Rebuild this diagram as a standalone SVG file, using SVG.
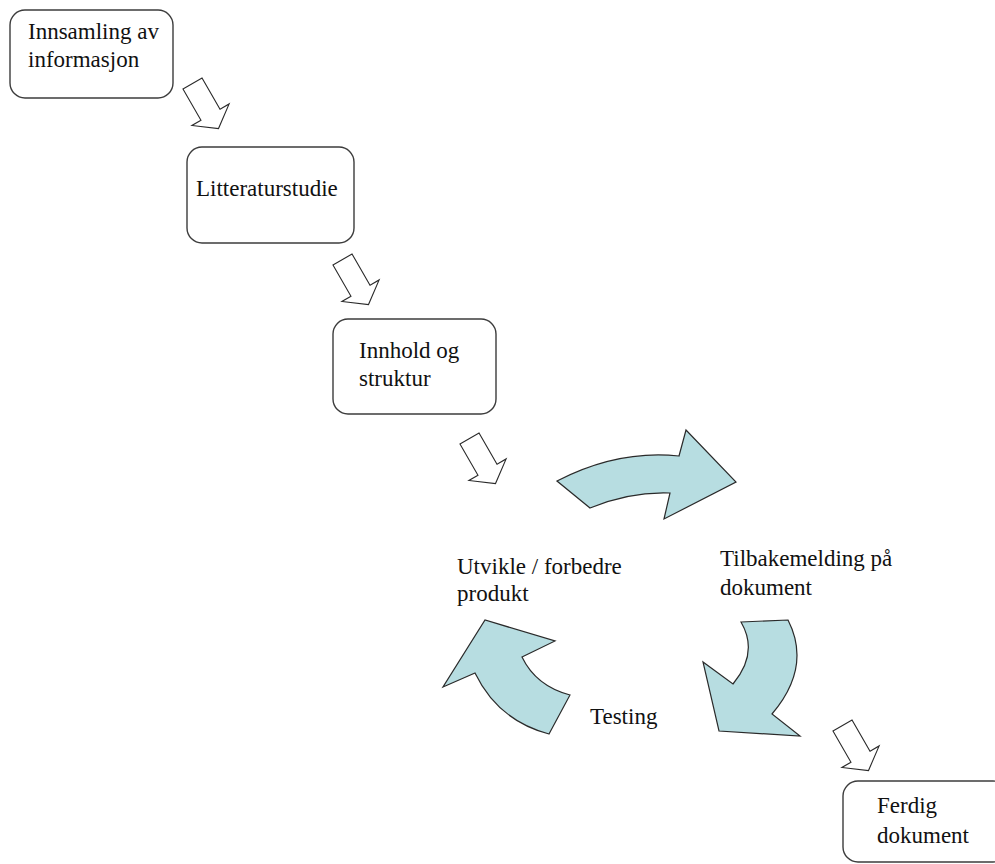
<svg xmlns="http://www.w3.org/2000/svg" width="995" height="864" viewBox="0 0 995 864">
  <style>
    .box { fill: #ffffff; stroke: #3c3c3c; stroke-width: 1.4; }
    .lbl { font-family: "Liberation Serif", "Times New Roman", serif; font-size: 23px; fill: #111111; }
    .step { fill: #ffffff; stroke: #2a2a2a; stroke-width: 1.1; stroke-linejoin: miter; }
    .cycle { fill: #b7dde1; stroke: #2a2a2a; stroke-width: 1.2; stroke-linejoin: miter; }
  </style>
  <defs>
    <!-- hollow block arrow pointing down, origin at the middle of the shaft's top edge -->
    <path id="stepArrow" d="M -11 0 L 11 0 L 11 36 L 21.5 36 L 0 52 L -21.5 36 L -11 36 Z"/>
  </defs>
  <rect width="995" height="864" fill="#ffffff"/>

  <!-- process steps -->
  <g id="node-innsamling">
    <rect class="box" x="10" y="10" width="163" height="88" rx="15"/>
    <text class="lbl" x="28" y="39">Innsamling av</text>
    <text class="lbl" x="28" y="67">informasjon</text>
  </g>
  <g id="node-litteratur">
    <rect class="box" x="187" y="147" width="167" height="96" rx="15"/>
    <text class="lbl" x="196" y="196">Litteraturstudie</text>
  </g>
  <g id="node-innhold">
    <rect class="box" x="333" y="319" width="163" height="95" rx="15"/>
    <text class="lbl" x="359" y="358">Innhold og</text>
    <text class="lbl" x="359" y="386">struktur</text>
  </g>
  <g id="node-utvikle">
    <text class="lbl" x="457" y="574">Utvikle / forbedre</text>
    <text class="lbl" x="457" y="601">produkt</text>
  </g>
  <g id="node-tilbakemelding">
    <text class="lbl" x="720" y="566">Tilbakemelding på</text>
    <text class="lbl" x="720" y="595">dokument</text>
  </g>
  <g id="node-testing">
    <text class="lbl" x="590" y="724">Testing</text>
  </g>
  <g id="node-ferdig">
    <rect class="box" x="843" y="781" width="165" height="81" rx="15"/>
    <text class="lbl" x="877" y="813">Ferdig</text>
    <text class="lbl" x="877" y="843">dokument</text>
  </g>

  <!-- connectors -->
  <g id="connectors">
    <use href="#stepArrow" class="step" transform="translate(192.5 83.5) rotate(-30)"/>
    <use href="#stepArrow" class="step" transform="translate(342.5 259.5) rotate(-30)"/>
    <use href="#stepArrow" class="step" transform="translate(469.5 438.5) rotate(-30)"/>
    <use href="#stepArrow" class="step" transform="translate(842.5 725.5) rotate(-30)"/>

    <!-- iteration cycle -->
    <path class="cycle" d="M557,481 Q618,449.5 679,456 L686,430 L736,482 L664,519 L670,493 Q630,491.5 590,508 Z"/>
    <path class="cycle" d="M741,622 L788,620 Q812,667 772,714 L800,736 L719,731 L703,662 L733,684 Q759,653 741,622 Z"/>
    <path class="cycle" d="M549,734 L570,695 Q536,686 522,657 L555,641 L485,620 L443,687 L475,673 Q498,720.5 549,734 Z"/>
  </g>
</svg>
